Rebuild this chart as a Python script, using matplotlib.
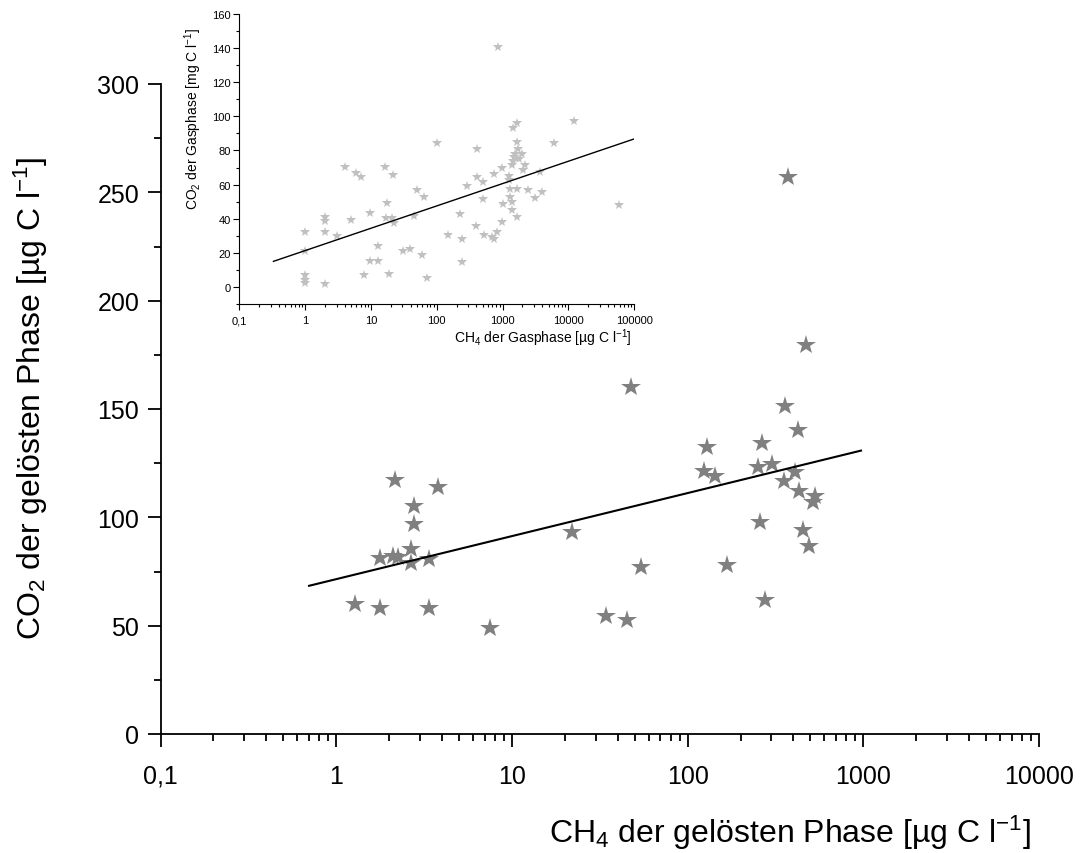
import matplotlib
matplotlib.use("Agg")
import matplotlib.pyplot as plt
from matplotlib.ticker import FixedLocator, FixedFormatter, LogLocator, MultipleLocator, NullFormatter

plt.rcParams['font.family'] = ['Liberation Sans', 'DejaVu Sans']
plt.rcParams['mathtext.fontset'] = 'custom'
plt.rcParams['mathtext.rm'] = 'Liberation Sans'
plt.rcParams['mathtext.it'] = 'Liberation Sans'
plt.rcParams['mathtext.default'] = 'regular'

# ---------------- data: main plot (dissolved phase) ----------------
main_ch4 = [2.17, 3.78, 2.77, 2.77, 1.78, 2.09, 2.26, 2.66, 2.68, 3.37,
            1.28, 1.78, 3.37, 7.5, 22.0, 473, 47.9, 359, 423, 128.8,
            266, 124.5, 143.6, 251, 302, 411, 352, 428, 528, 514,
            259, 451, 488, 54.4, 167.5, 276.5, 34.3, 45.1, 374]
main_co2 = [117.2, 114, 105.1, 97.1, 81.2, 82.3, 81.8, 85.4, 78.9, 80.8,
            60.1, 58.0, 58.0, 48.9, 93.1, 179.5, 160.3, 151.5, 140.4, 132.6,
            134.3, 121.5, 119.2, 123.4, 124.6, 121.1, 116.9, 112.3, 109.7, 107.2,
            98.0, 94.1, 86.9, 77.2, 78.0, 62.0, 54.3, 52.8, 257]
main_fit_x = [0.7, 970]
main_fit_y = [68.4, 130.8]

main_xticks = [0.1, 1, 10, 100, 1000, 10000]
main_xticklabels = ['0,1', '1', '10', '100', '1000', '10000']
main_yticks = [0, 50, 100, 150, 200, 250, 300]

# ---------------- data: inset (gas phase) ----------------
gas_ch4 = [1, 1, 1, 1, 1, 2, 2, 2, 2, 3,
           4, 5, 6, 7, 7.8, 9.7, 9.7, 12.9, 12.9, 16.3,
           17.7, 16.9, 20.6, 18.8, 21.4, 22.4, 30.2, 38.9, 45, 49.5,
           64.6, 59, 70, 102, 150, 225, 239, 239, 284, 404,
           394, 404, 509, 498, 520, 700, 730, 813, 747, 839,
           968, 1000, 989, 1262, 1262, 1294, 1294, 1374, 1374, 1374,
           1452, 1452, 1542, 1637, 1637, 1694, 1950, 1637, 1637, 2060,
           2188, 2455, 3106, 3700, 3927, 6030, 12270, 59200, 1500, 1750]
gas_co2 = [32, 21, 7, 4, 2.5, 2, 41, 38.5, 32, 30,
           70.5, 39.5, 67, 64.4, 7.2, 43.5, 15, 23.8, 15, 70.3,
           49.4, 40.4, 40.4, 7.4, 65.8, 37.6, 20.8, 22, 41.6, 56.6,
           52.7, 18.5, 5.3, 84.5, 30.2, 42.9, 27.9, 14.6, 59.1, 80.6,
           35.7, 64.4, 61.8, 51.3, 30.6, 29, 28, 32.5, 66, 140.7,
           38, 48.4, 69.7, 65.3, 62.4, 57.6, 52.7, 71.2, 49.8, 44.9,
           74, 93.1, 78, 96.2, 85.2, 81, 78, 57.6, 41, 68.3,
           71.2, 56.6, 52.1, 67.3, 55.6, 84.5, 97, 47.8, 76, 75]
gas_fit_x = [0.33, 1.0e5]
gas_fit_y = [15.0, 86.8]

gas_xticks = [0.1, 1, 10, 100, 1000, 10000, 100000]
gas_xticklabels = ['0,1', '1', '10', '100', '1000', '10000', '100000']
gas_yticks = [0, 20, 40, 60, 80, 100, 120, 140, 160]

# ---------------- figure ----------------
W, H = 1081, 854
fig = plt.figure(figsize=(W / 100, H / 100), dpi=100)

def frac_box(left, top, right, bottom):
    return [left / W, 1 - bottom / H, (right - left) / W, (bottom - top) / H]

# main axes
ax = fig.add_axes(frac_box(160.6, 85, 1039, 735))
ax.plot(main_ch4, main_co2, linestyle='none', marker='*', ms=14.5,
        color='#808080', markeredgewidth=0, zorder=2, clip_on=False)
ax.plot(main_fit_x, main_fit_y, color='black', lw=1.5, zorder=3)
ax.set_xscale('log')
ax.set_xlim(0.1, 10000)
ax.set_ylim(0, 300)
ax.xaxis.set_major_locator(FixedLocator(main_xticks))
ax.xaxis.set_major_formatter(FixedFormatter(main_xticklabels))
ax.xaxis.set_minor_locator(LogLocator(base=10, subs=range(2, 10)))
ax.xaxis.set_minor_formatter(NullFormatter())
ax.yaxis.set_major_locator(FixedLocator(main_yticks))
ax.yaxis.set_minor_locator(MultipleLocator(25))
for s in ['top', 'right']:
    ax.spines[s].set_visible(False)
for s in ['left', 'bottom']:
    ax.spines[s].set_linewidth(1.3)
ax.tick_params(which='major', direction='out', length=9.4, width=1.3,
               labelsize=18)
ax.tick_params(axis='x', which='major', pad=12)
ax.tick_params(axis='y', which='major', pad=6)
ax.tick_params(which='minor', direction='out', length=5, width=1.3)

fig.text(31 / W, 1 - 640 / H, r'CO$_2$ der gelösten Phase [µg C l$^{-1}$]',
         rotation=90, ha='center', va='bottom', fontsize=23)
fig.text(1031 / W, 1 - 843 / H, r'CH$_4$ der gelösten Phase [µg C l$^{-1}$]',
         ha='right', va='baseline', fontsize=23)

# inset axes
ai = fig.add_axes(frac_box(239.3, 15, 634.3, 305))
ai.plot(gas_ch4, gas_co2, linestyle='none', marker='*', ms=7.5,
        color='#c0c0c0', markeredgewidth=0, zorder=2)
ai.plot(gas_fit_x, gas_fit_y, color='black', lw=1.0, zorder=3)
ai.set_xscale('log')
ai.set_xlim(0.1, 100000)
ai.set_ylim(-10, 160)
ai.xaxis.set_major_locator(FixedLocator(gas_xticks))
ai.xaxis.set_major_formatter(FixedFormatter(gas_xticklabels))
ai.xaxis.set_minor_locator(LogLocator(base=10, subs=range(2, 10)))
ai.xaxis.set_minor_formatter(NullFormatter())
ai.yaxis.set_major_locator(FixedLocator(gas_yticks))
ai.yaxis.set_minor_locator(MultipleLocator(10))
for s in ['top', 'right']:
    ai.spines[s].set_visible(False)
for s in ['left', 'bottom']:
    ai.spines[s].set_linewidth(0.8)
ai.patch.set_alpha(0)
ai.tick_params(which='major', direction='out', length=4, width=0.8,
               labelsize=8, pad=2)
ai.tick_params(axis='x', which='major', pad=4)
ai.tick_params(which='minor', direction='out', length=2, width=0.8)

fig.text(193 / W, 1 - 28 / H, r'CO$_2$ der Gasphase [mg C l$^{-1}$]',
         rotation=90, ha='center', va='top', fontsize=10)
fig.text(632 / W, 1 - 338 / H, r'CH$_4$ der Gasphase [µg C l$^{-1}$]',
         ha='right', va='center', fontsize=10)

fig.savefig('out.png', dpi=100)
